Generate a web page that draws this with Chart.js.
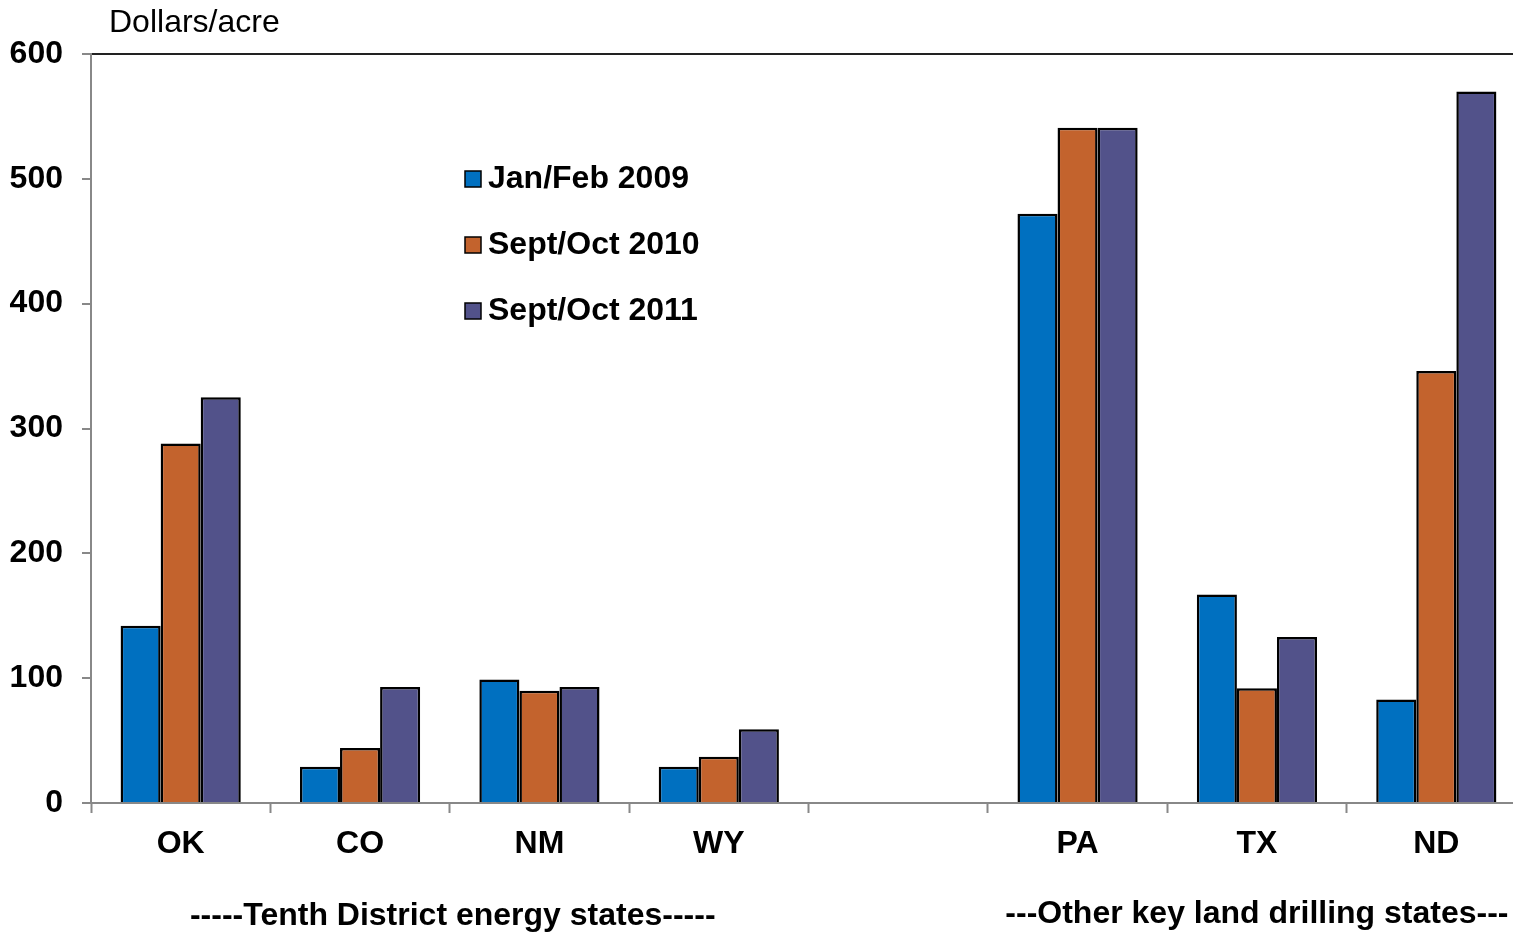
<!DOCTYPE html>
<html lang="en">
<head>
<meta charset="utf-8">
<title>Dollars/acre</title>
<script src="https://cdn.jsdelivr.net/npm/chart.js@4/dist/chart.umd.min.js"></script>
<style>
  html, body { margin: 0; padding: 0; background: #fff; overflow: hidden; }
  #wrap { position: relative; width: 1530px; height: 933px; }
</style>
</head>
<body>
<div id="wrap">
  <canvas id="chart" width="1530" height="933"></canvas>
</div>

<script>
// data
var states = ['OK', 'CO', 'NM', 'WY', '', 'PA', 'TX', 'ND'];
var janFeb2009 = [142, 29, 99, 29, null, 472, 167, 83];
var septOct2010 = [288, 44, 90, 37, null, 541, 92, 346];
var septOct2011 = [325, 93, 93, 59, null, 541, 133, 570];
var seriesNames = ['Jan/Feb 2009', 'Sept/Oct 2010', 'Sept/Oct 2011'];
var yTicks = [0, 100, 200, 300, 400, 500, 600];
var groupLabels = ['-----Tenth District energy states-----', '---Other key land drilling states---'];

var colors = ['#0070C0', '#C3632D', '#52528A'];
var FONT = '"Liberation Sans", Arial, sans-serif';

// legend, unit and group captions drawn on the canvas
var extras = {
  id: 'extras',
  afterDraw: function(chart) {
    var ctx = chart.ctx;
    var x = chart.scales.x;
    ctx.save();
    ctx.fillStyle = '#000';
    ctx.textBaseline = 'middle';

    ctx.font = '32px ' + FONT;
    ctx.textAlign = 'left';
    ctx.fillText('Dollars/acre', 109, 23);

    // legend
    ctx.font = 'bold 32px ' + FONT;
    for (var i = 0; i < seriesNames.length; i++) {
      var y = 179 + i * 66;
      ctx.fillStyle = colors[i];
      ctx.fillRect(465, y - 8, 16, 16);
      ctx.strokeStyle = '#000';
      ctx.lineWidth = 1.5;
      ctx.strokeRect(465, y - 8, 16, 16);
      ctx.fillStyle = '#000';
      ctx.fillText(seriesNames[i], 488, y);
    }

    // group captions
    ctx.textAlign = 'center';
    var g1 = (x.getPixelForValue(0) + x.getPixelForValue(3)) / 2;
    var g2 = (x.getPixelForValue(5) + x.getPixelForValue(7)) / 2;
    ctx.fillText(groupLabels[0], g1 + 3, 916);
    ctx.fillText(groupLabels[1], g2, 914);
    ctx.restore();
  }
};

var makeSet = function(label, data, color) {
  return {
    label: label,
    data: data,
    backgroundColor: color,
    borderColor: '#000',
    borderWidth: 2.5,
    barPercentage: 1.0,
    categoryPercentage: 0.67
  };
};

var config = {
  type: 'bar',
  data: {
    labels: states,
    datasets: [
      makeSet(seriesNames[0], janFeb2009, colors[0]),
      makeSet(seriesNames[1], septOct2010, colors[1]),
      makeSet(seriesNames[2], septOct2011, colors[2])
    ]
  },
  options: {
    responsive: false,
    animation: false,
    layout: { padding: { top: 54, right: 4, left: 0, bottom: 0 } },
    plugins: {
      legend: { display: false },
      tooltip: { enabled: false }
    },
    scales: {
      x: {
        offset: true,
        grid: { offset: true, drawOnChartArea: false, tickLength: 10, tickColor: '#888', tickWidth: 2 },
        border: { color: '#888', width: 2 },
        ticks: { color: '#000', font: { family: FONT, size: 32, weight: 'bold' }, padding: 12, maxRotation: 0 },
        afterFit: function(scale) { scale.height = 130; }
      },
      y: {
        min: 0,
        max: 600,
        afterBuildTicks: function(scale) {
          scale.ticks = yTicks.map(function(v) { return { value: v }; });
        },
        grid: {
          color: function(c) { return c.tick && c.tick.value === 600 ? '#222' : 'rgba(0,0,0,0)'; },
          lineWidth: 2,
          tickLength: 9,
          tickColor: '#888',
          tickWidth: 2
        },
        border: { color: '#888', width: 2 },
        ticks: { color: '#000', font: { family: FONT, size: 32, weight: 'bold' }, padding: 19 },
        afterFit: function(scale) { scale.width = 91; }
      }
    }
  },
  plugins: [extras]
};

window.onload = function() {
  var ctx = document.getElementById('chart').getContext('2d');
  window.myBar = new Chart(ctx, config);
};
</script>
</body>
</html>
